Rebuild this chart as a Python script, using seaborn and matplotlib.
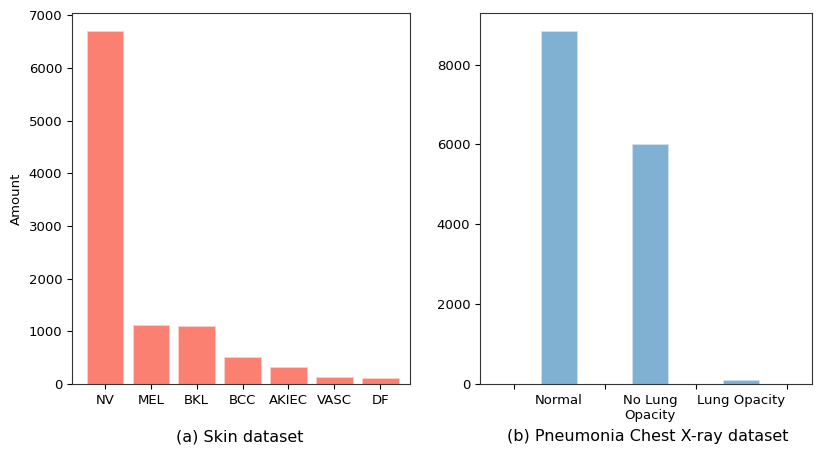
import matplotlib
matplotlib.use("Agg")
import matplotlib.pyplot as plt
import seaborn as sns
import pandas as pd

skin_classes = ["NV", "MEL", "BKL", "BCC", "AKIEC", "VASC", "DF"]
skin_counts = [6705, 1113, 1099, 514, 327, 142, 115]

chest_classes = ["Normal", "No Lung\nOpacity", "Lung Opacity"]
chest_counts = [8851, 6012, 100]

plt.rcParams['font.family'] = ['DejaVu Sans']
fs_tick = 9.5
fs_cap = 11.5

fig = plt.figure(figsize=(8.3, 4.57), dpi=100)
ax1 = fig.add_axes([72/830, 73/457, 338/830, 371/457])
ax2 = fig.add_axes([480/830, 73/457, 332/830, 371/457])

df1 = pd.DataFrame({"cls": skin_classes, "n": skin_counts})
sns.barplot(data=df1, x="cls", y="n", ax=ax1, color="#fb8072", saturation=1,
            width=0.8, edgecolor="#fdd0c8", linewidth=0.6)
ax1.set_xlim(-0.72, 6.65)
ax1.set_ylim(0, 6705 * 1.05)
ax1.set_xlabel("")
ax1.set_ylabel("Amount", fontsize=fs_tick)
ax1.tick_params(labelsize=fs_tick)

df2 = pd.DataFrame({"cls": chest_classes, "n": chest_counts})
sns.barplot(data=df2, x="cls", y="n", ax=ax2, color="#80b1d3", saturation=1,
            width=0.4, edgecolor="#cfe2ef", linewidth=0.6)
ax2.set_xlim(-0.87, 2.78)
ax2.set_ylim(0, 8851 * 1.05)
ax2.set_xlabel("")
ax2.set_ylabel("")
ax2.set_xticks([-0.5, 0.5, 1.5, 2.5])
ax2.set_xticklabels([])
ax2.set_xticks([0, 1, 2], minor=True)
ax2.set_xticklabels(chest_classes, minor=True)
ax2.tick_params(axis="x", which="minor", length=0, pad=3.5 + 3.5)
ax2.tick_params(labelsize=fs_tick, which="both")
ax2.set_yticks([0, 2000, 4000, 6000, 8000])

for ax in (ax1, ax2):
    for s in ax.spines.values():
        s.set_visible(True)
        s.set_color("#333333")

fig.text(240/830, 1 - 437/457, "(a) Skin dataset", ha="center", va="center", fontsize=fs_cap)
fig.text(648/830, 1 - 437/457, "(b) Pneumonia Chest X-ray dataset", ha="center", va="center", fontsize=fs_cap)

fig.savefig("out.png", dpi=100)
